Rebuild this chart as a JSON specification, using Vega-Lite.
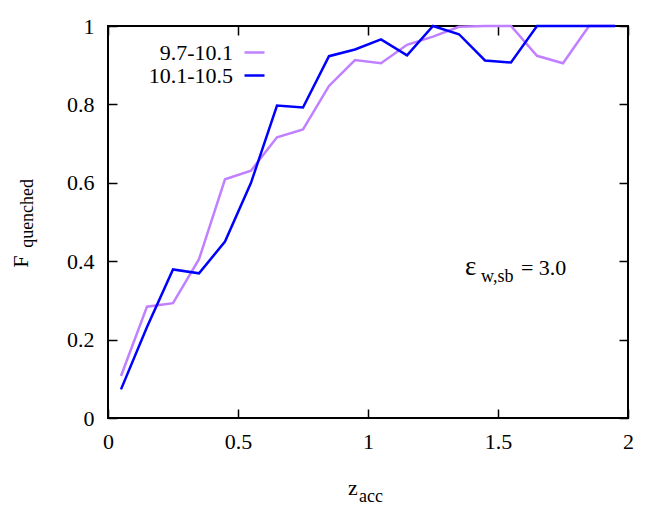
{
  "$schema": "https://vega.github.io/schema/vega-lite/v6.json",
  "width": 520,
  "height": 392,
  "autosize": {"type": "none"},
  "padding": {"left": 108, "top": 26, "right": 36, "bottom": 114},
  "background": "white",
  "config": {
    "view": {"stroke": "black", "strokeWidth": 2},
    "font": "Liberation Serif",
    "axis": {"domain": false, "grid": false, "tickColor": "black", "tickWidth": 1.5, "labelFont": "Liberation Serif", "labelFontSize": 22, "labelColor": "black", "labelFlush": false},
    "legend": {"labelFont": "Liberation Serif", "labelFontSize": 22}
  },
  "datasets": {
    "curves": [
      {"series": "9.7-10.1", "z": 0.05, "f": 0.107},
      {"series": "9.7-10.1", "z": 0.15, "f": 0.284},
      {"series": "9.7-10.1", "z": 0.25, "f": 0.293},
      {"series": "9.7-10.1", "z": 0.35, "f": 0.405},
      {"series": "9.7-10.1", "z": 0.45, "f": 0.609},
      {"series": "9.7-10.1", "z": 0.55, "f": 0.631},
      {"series": "9.7-10.1", "z": 0.65, "f": 0.716},
      {"series": "9.7-10.1", "z": 0.75, "f": 0.736},
      {"series": "9.7-10.1", "z": 0.85, "f": 0.847},
      {"series": "9.7-10.1", "z": 0.95, "f": 0.913},
      {"series": "9.7-10.1", "z": 1.05, "f": 0.905},
      {"series": "9.7-10.1", "z": 1.15, "f": 0.952},
      {"series": "9.7-10.1", "z": 1.25, "f": 0.973},
      {"series": "9.7-10.1", "z": 1.35, "f": 0.998},
      {"series": "9.7-10.1", "z": 1.45, "f": 1.0},
      {"series": "9.7-10.1", "z": 1.55, "f": 1.0},
      {"series": "9.7-10.1", "z": 1.65, "f": 0.924},
      {"series": "9.7-10.1", "z": 1.75, "f": 0.905},
      {"series": "9.7-10.1", "z": 1.85, "f": 1.0},
      {"series": "9.7-10.1", "z": 1.95, "f": 1.0},
      {"series": "10.1-10.5", "z": 0.05, "f": 0.073},
      {"series": "10.1-10.5", "z": 0.15, "f": 0.232},
      {"series": "10.1-10.5", "z": 0.25, "f": 0.379},
      {"series": "10.1-10.5", "z": 0.35, "f": 0.369},
      {"series": "10.1-10.5", "z": 0.45, "f": 0.45},
      {"series": "10.1-10.5", "z": 0.55, "f": 0.6},
      {"series": "10.1-10.5", "z": 0.65, "f": 0.797},
      {"series": "10.1-10.5", "z": 0.75, "f": 0.792},
      {"series": "10.1-10.5", "z": 0.85, "f": 0.923},
      {"series": "10.1-10.5", "z": 0.95, "f": 0.94},
      {"series": "10.1-10.5", "z": 1.05, "f": 0.966},
      {"series": "10.1-10.5", "z": 1.15, "f": 0.925},
      {"series": "10.1-10.5", "z": 1.25, "f": 1.0},
      {"series": "10.1-10.5", "z": 1.35, "f": 0.979},
      {"series": "10.1-10.5", "z": 1.45, "f": 0.912},
      {"series": "10.1-10.5", "z": 1.55, "f": 0.907},
      {"series": "10.1-10.5", "z": 1.65, "f": 1.0},
      {"series": "10.1-10.5", "z": 1.75, "f": 1.0},
      {"series": "10.1-10.5", "z": 1.85, "f": 1.0},
      {"series": "10.1-10.5", "z": 1.95, "f": 1.0}
    ],
    "one": [{}]
  },
  "resolve": {"axis": {"x": "independent", "y": "independent"}},
  "layer": [
    {
      "data": {"name": "curves"},
      "mark": {"type": "line", "strokeWidth": 2.5},
      "encoding": {
        "x": {"field": "z", "type": "quantitative", "scale": {"domain": [0, 2], "nice": false, "zero": false},
              "axis": {"orient": "bottom", "title": null, "values": [0, 0.5, 1, 1.5, 2], "format": "~g", "tickSize": -9, "labelPadding": 22, "labelFont": "Liberation Serif", "labelFontSize": 22, "labelFlush": false}},
        "y": {"field": "f", "type": "quantitative", "scale": {"domain": [0, 1], "nice": false, "zero": false},
              "axis": {"orient": "left", "title": null, "values": [0, 0.2, 0.4, 0.6, 0.8, 1], "format": "~g", "tickSize": -9, "labelPadding": 23, "labelFont": "Liberation Serif", "labelFontSize": 22, "labelFlush": false}},
        "color": {"field": "series", "type": "nominal",
                  "scale": {"domain": ["9.7-10.1", "10.1-10.5"], "range": ["#c080ff", "#0000ff"]},
                  "legend": {"orient": "none", "legendX": 135, "legendY": 15, "title": null, "symbolType": "stroke", "symbolSize": 400, "symbolStrokeWidth": 2.5, "labelAlign": "right", "labelOffset": -33, "labelFont": "Liberation Serif", "labelFontSize": 22, "labelColor": "black", "rowPadding": 0, "labelLimit": 300}}
      }
    },
    {
      "data": {"name": "curves"},
      "mark": {"type": "line", "opacity": 0},
      "encoding": {
        "x": {"field": "z", "type": "quantitative",
              "axis": {"orient": "top", "title": null, "values": [0, 0.5, 1, 1.5, 2], "labels": false, "tickSize": -9}},
        "y": {"field": "f", "type": "quantitative",
              "axis": {"orient": "right", "title": null, "values": [0, 0.2, 0.4, 0.6, 0.8, 1], "labels": false, "tickSize": -9}},
        "detail": {"field": "series"}
      }
    },
    {
      "data": {"name": "one"},
      "mark": {"type": "text", "text": "F", "align": "left", "baseline": "alphabetic", "angle": 270, "font": "Liberation Serif", "fontSize": 22, "color": "black"},
      "encoding": {"x": {"datum": -0.306, "type": "quantitative", "axis": null}, "y": {"datum": 0.383, "type": "quantitative", "axis": null}}
    },
    {
      "data": {"name": "one"},
      "mark": {"type": "text", "text": "quenched", "align": "left", "baseline": "alphabetic", "angle": 270, "font": "Liberation Serif", "fontSize": 18, "color": "black"},
      "encoding": {"x": {"datum": -0.287, "type": "quantitative", "axis": null}, "y": {"datum": 0.434, "type": "quantitative", "axis": null}}
    },
    {
      "data": {"name": "one"},
      "mark": {"type": "text", "text": "z", "align": "left", "baseline": "alphabetic", "font": "Liberation Serif", "fontSize": 22, "color": "black"},
      "encoding": {"x": {"datum": 0.923, "type": "quantitative", "axis": null}, "y": {"datum": -0.196, "type": "quantitative", "axis": null}}
    },
    {
      "data": {"name": "one"},
      "mark": {"type": "text", "text": "acc", "align": "left", "baseline": "alphabetic", "font": "Liberation Serif", "fontSize": 18, "color": "black"},
      "encoding": {"x": {"datum": 0.965, "type": "quantitative", "axis": null}, "y": {"datum": -0.214, "type": "quantitative", "axis": null}}
    },
    {
      "data": {"name": "one"},
      "mark": {"type": "text", "text": "ε", "align": "left", "baseline": "alphabetic", "font": "Liberation Serif", "fontSize": 27, "color": "black"},
      "encoding": {"x": {"datum": 1.373, "type": "quantitative", "axis": null}, "y": {"datum": 0.365, "type": "quantitative", "axis": null}}
    },
    {
      "data": {"name": "one"},
      "mark": {"type": "text", "text": "w,sb", "align": "left", "baseline": "alphabetic", "font": "Liberation Serif", "fontSize": 18, "color": "black"},
      "encoding": {"x": {"datum": 1.435, "type": "quantitative", "axis": null}, "y": {"datum": 0.347, "type": "quantitative", "axis": null}}
    },
    {
      "data": {"name": "one"},
      "mark": {"type": "text", "text": "= 3.0", "align": "left", "baseline": "alphabetic", "font": "Liberation Serif", "fontSize": 22, "color": "black"},
      "encoding": {"x": {"datum": 1.588, "type": "quantitative", "axis": null}, "y": {"datum": 0.365, "type": "quantitative", "axis": null}}
    }
  ]
}
